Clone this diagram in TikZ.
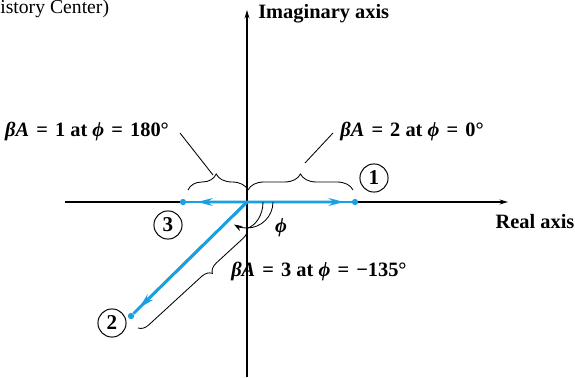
\documentclass[tikz,border=0pt]{standalone}
\usepackage{fontspec}
\setmainfont{Liberation Serif}
\usetikzlibrary{arrows.meta,decorations.pathreplacing,calc}
\definecolor{vecblue}{RGB}{25,160,225}
\newcommand{\eqs}{\hspace{0.35em}=\hspace{0.35em}}

\tikzstyle{axis} = [line width=0.8pt, -{Stealth[length=6pt,width=3.5pt]}]
\tikzstyle{bluevec} = [vecblue, line width=2pt]
\tikzstyle{vectip} = [-{Stealth[length=11pt,width=5.5pt]}]
\tikzstyle{tipdot} = [circle, fill=vecblue, inner sep=0pt, minimum size=4.5pt]
\tikzstyle{numcirc} = [circle, draw, line width=0.7pt, inner sep=0pt, minimum size=20pt, font=\bfseries\fontsize{15}{15}\selectfont]
\tikzstyle{lab} = [font=\bfseries\fontsize{14.5}{16}\selectfont, inner sep=0pt]
\tikzstyle{bracket} = [decorate, line width=0.6pt]

\begin{document}
\begin{tikzpicture}[x=0.025cm, y=0.025cm]
\useasboundingbox (0,0) rectangle (575,377);
% axes
\coordinate (O) at (247,175);
\coordinate (xl) at (65,175);
\coordinate (xr) at (508,175);
\coordinate (yb) at (247,0);
\coordinate (yt) at (247,367);
\draw[axis] (xl) -- (xr);
\draw[axis] (yb) -- (yt);
\node[lab, anchor=west] (im) at (258,363) {Imaginary axis};
\node[lab] (re) at (535,155) {Real axis};
\node[anchor=west, inner sep=0pt, font=\fontsize{14}{16}\selectfont] (src) at (0,368) {istory Center)};
% vector end points
\node[tipdot] (p1) at (355,175) {};
\node[tipdot] (p3) at (183,175) {};
\node[tipdot] (p2) at (131,61) {};
\node[numcirc] (n1) at (374,199) {1};
\node[numcirc] (n3) at (168,152) {3};
\node[numcirc] (n2) at (112,54) {2};
% vectors
\draw[bluevec] (O) -- (p1);
\draw[bluevec] (O) -- (p3);
\draw[bluevec] (O) -- (p2);
\draw[bluevec, vectip] (O) -- ($(O)!0.9!(p1)$);
\draw[bluevec, vectip] (O) -- ($(O)!0.78!(p3)$);
\draw[bluevec, vectip] (O) -- ($(O)!0.93!(p2)$);
% braces
\draw[bracket, decoration={brace, amplitude=0.4cm, aspect=0.47}] (188,187) -- (248,187);
\draw[bracket, decoration={brace, amplitude=0.4cm, aspect=0.5}] (248,187) -- (353,187);
\draw[bracket, decoration={brace, amplitude=0.25cm, aspect=0.38}] (247,149) -- (138,49);
% labels
\node[lab] (l1) at (87,246) {\textit{β}\textit{A}\eqs 1 at \textit{ϕ}\eqs 180°};
\node[lab] (l2) at (412,246) {\textit{β}\textit{A}\eqs 2 at \textit{ϕ}\eqs 0°};
\node[lab, anchor=west] (l3) at (231,106) {\textit{β}\textit{A}\eqs 3 at \textit{ϕ}\eqs −135°};
\coordinate (c1) at (180,244);
\coordinate (c1b) at (213,202);
\coordinate (c2) at (333,244);
\coordinate (c2b) at (305,214);
\draw[line width=0.6pt] (c1) -- (c1b);
\draw[line width=0.6pt] (c2) -- (c2b);
% angle phi
\draw[line width=0.6pt, -{Stealth[length=6pt,width=4pt]}] (273,175) arc[start angle=0, end angle=-120, radius=26];
\draw[line width=0.6pt] (263,175) .. controls (263,162) and (256,152) .. (248,149);
\node[lab] (phi) at (281,149) {\textit{ϕ}};
\end{tikzpicture}
\end{document}
